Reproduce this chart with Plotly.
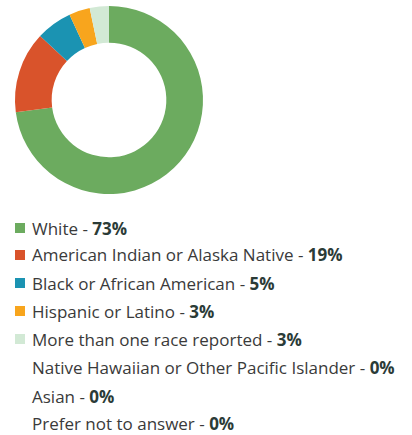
import plotly.graph_objects as go

categories = ["White", "American Indian or Alaska Native", "Black or African American",
              "Hispanic or Latino", "More than one race reported",
              "Native Hawaiian or Other Pacific Islander", "Asian", "Prefer not to answer"]
# slice sizes as drawn in the ring
slice_values = [73, 14, 6.2, 3.6, 3.3, 0, 0, 0]
# percentages printed in the legend
label_pct = [73, 19, 5, 3, 3, 0, 0, 0]
colors = ["#6cab5f", "#d9532b", "#1b93b2", "#f8a51d", "#d2e9d5", "#ffffff", "#ffffff", "#ffffff"]

W, H = 412, 435


def px(x):
    return x / W


def py(y):
    return 1 - y / H


fig = go.Figure()
fig.add_trace(go.Pie(
    labels=categories, values=slice_values, hole=0.61, sort=False,
    direction="clockwise", rotation=0, marker=dict(colors=colors, line=dict(width=0)),
    textinfo="none", hoverinfo="label+percent", showlegend=False,
    domain=dict(x=[px(15), px(203)], y=[py(195), py(5)]),
))

row_y = [228, 255, 283, 311, 339, 367, 396, 423]
for i, (cat, pct) in enumerate(zip(categories, label_pct)):
    y = py(row_y[i])
    if slice_values[i] > 0:
        fig.add_shape(type="rect", xref="paper", yref="paper",
                      x0=px(15), x1=px(25), y0=y - 5 / H, y1=y + 5 / H,
                      fillcolor=colors[i], line=dict(width=0))
    fig.add_annotation(x=px(30), y=y, xref="paper", yref="paper", xanchor="left", yanchor="middle",
                       text=f"{cat} - <b style='color:#2b3b37'>{pct}%</b>", showarrow=False,
                       font=dict(family="Open Sans", size=17, color="#3a3a3a"))

fig.update_layout(width=W, height=H, margin=dict(l=0, r=0, t=0, b=0),
                  paper_bgcolor="white", plot_bgcolor="white")
fig.write_html("out.html", config={"displayModeBar": False},
               post_script="document.body.style.margin='0';document.body.style.overflow='hidden';")
